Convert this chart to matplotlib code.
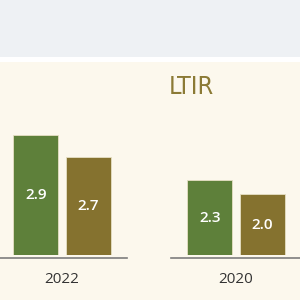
import matplotlib
matplotlib.use("Agg")
import matplotlib.pyplot as plt
from matplotlib.patches import Rectangle

# datos LTIR por año (dos paneles)
years = ["2022", "2020"]
green_vals = [2.9, 2.3]
olive_vals = [2.7, 2.0]
# escala de cada panel (el original no parte de cero)
ylims = [(1.794, 3.223), (0.727, 3.979)]

GREEN = "#5e803a"
OLIVE = "#85722f"
CREAM = "#fcf8ed"
GRAY_TOP = "#eef1f4"

plt.rcParams['font.family'] = ['Open Sans', 'DejaVu Sans']

fig = plt.figure(figsize=(3, 3), dpi=100)
fig.patch.set_facecolor("white")
fig.patches.append(Rectangle((0, 1 - 57/300), 1, 57/300, transform=fig.transFigure,
                             facecolor=GRAY_TOP, edgecolor="none", zorder=-10))
fig.patches.append(Rectangle((0, 0), 1, 1 - 62/300, transform=fig.transFigure,
                             facecolor=CREAM, edgecolor="none", zorder=-10))

lefts = [-3/300, 171/300]
for i, year in enumerate(years):
    ax = fig.add_axes([lefts[i], 45/300, 130/300, 155/300])
    ax.set_facecolor("none")
    lo, hi = ylims[i]
    ax.set_ylim(lo, hi)
    ax.set_xlim(-1.444, 1.444)
    vals = [green_vals[i], olive_vals[i]]
    cols = [GREEN, OLIVE]
    for j, (x, v) in enumerate(zip([-0.58, 0.58], vals)):
        ax.bar(x, v - lo, bottom=lo, width=1.0, color=cols[j],
               edgecolor="#e6e0c4", linewidth=0.6)
        ax.text(x, (lo + v) / 2, f"{v:.1f}", color="white", ha="center", va="center",
                fontsize=11, fontweight="semibold")
    for s in ["top", "right", "left"]:
        ax.spines[s].set_visible(False)
    ax.spines["bottom"].set_position(("outward", 2.4))
    ax.spines["bottom"].set_color("#7d7d7d")
    ax.spines["bottom"].set_linewidth(1.2)
    ax.set_yticks([])
    ax.set_xticks([0])
    ax.set_xticklabels([year], fontsize=11, color="#333333")
    ax.tick_params(axis="x", length=0, pad=9.5)

fig.text(191/300, 1 - 87/300, "LTIR", ha="center", va="center", fontsize=18,
         color="#8b7a35", family=['DejaVu Sans'], fontstretch="condensed")

fig.savefig("out.png", dpi=100)
